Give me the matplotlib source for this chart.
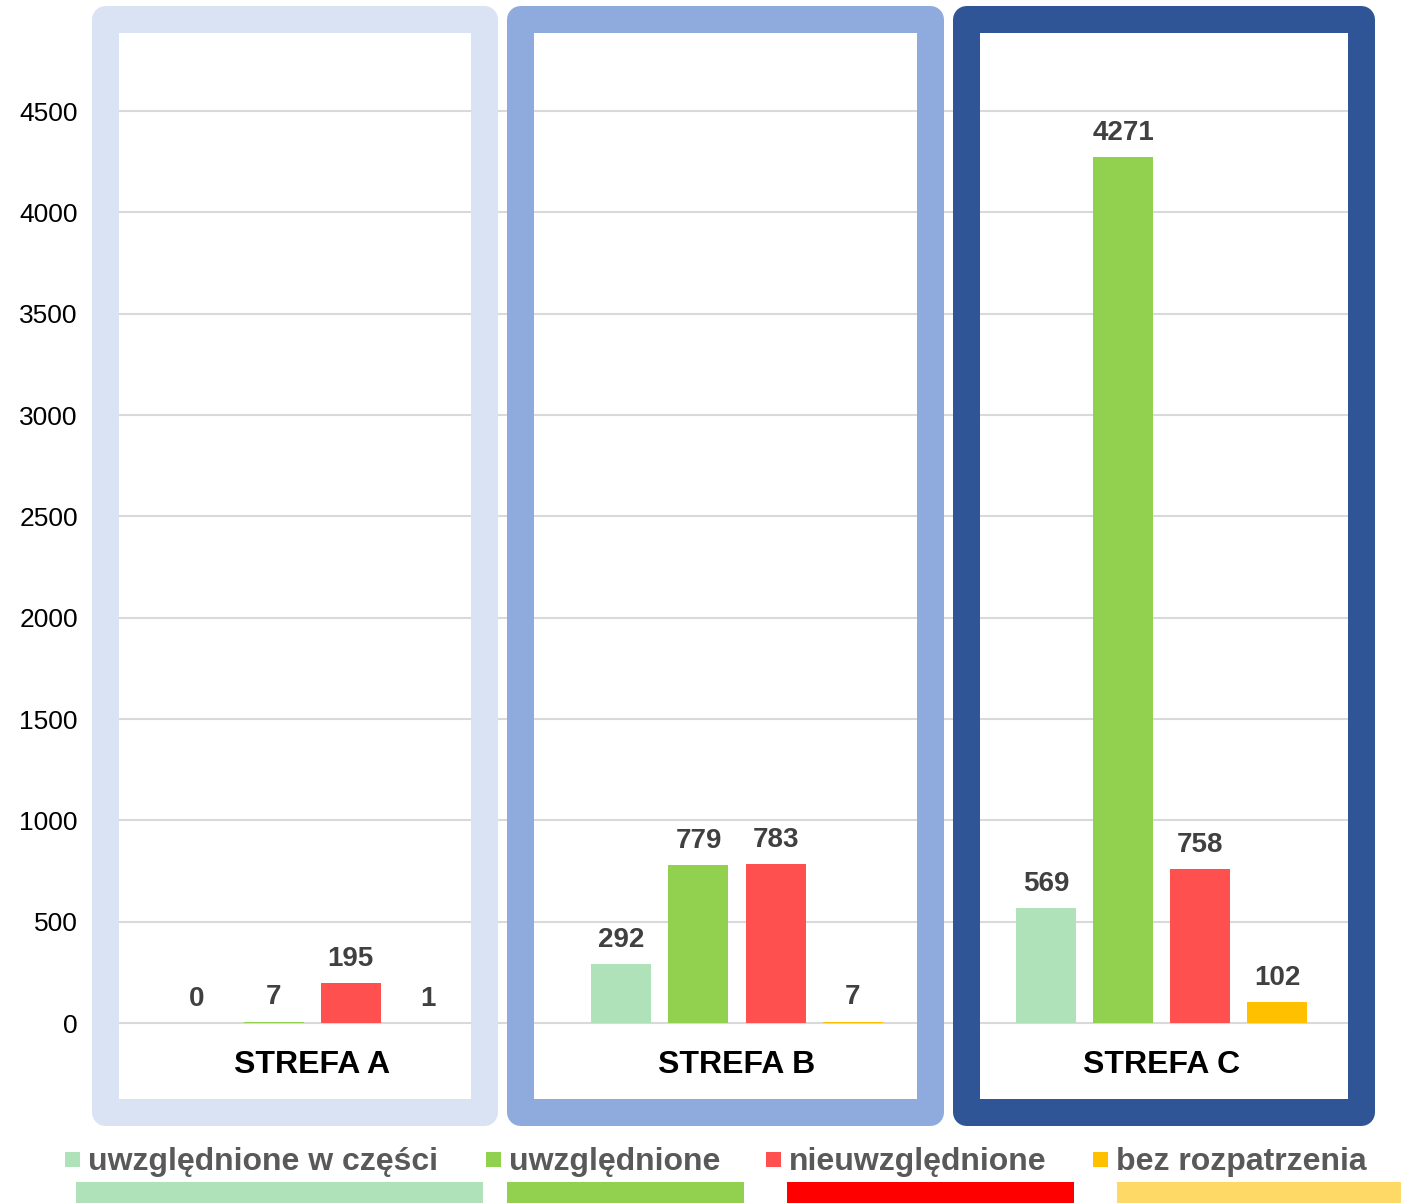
import matplotlib
matplotlib.use("Agg")
import matplotlib.pyplot as plt
from matplotlib.patches import Rectangle
import numpy as np

plt.rcParams["font.family"] = ["Liberation Sans", "DejaVu Sans"]

zones = ["STREFA A", "STREFA B", "STREFA C"]
series = ["uwzględnione w części", "uwzględnione", "nieuwzględnione", "bez rozpatrzenia"]
values = {
    "uwzględnione w części": [0, 292, 569],
    "uwzględnione": [7, 779, 4271],
    "nieuwzględnione": [195, 783, 758],
    "bez rozpatrzenia": [1, 7, 102],
}
yticks = [0, 500, 1000, 1500, 2000, 2500, 3000, 3500, 4000, 4500]

bar_colors = ["#B0E2BA", "#92D050", "#FF5050", "#FFC000"]
strip_colors = ["#B0E2BA", "#92D050", "#FF0000", "#FFD966"]
frame_colors = ["#DAE3F3", "#8FAADC", "#2F5597"]

W, H = 1401, 1203
fig = plt.figure(figsize=(W / 100, H / 100), dpi=100)


def fx(px):
    return px / W


def fy(py):
    return 1 - py / H


# axes spans pixels x 100..1374, y 31..1099
ax = fig.add_axes([fx(100), fy(1099), (1374 - 100) / W, (1099 - 31) / H])
ax.set_xlim(-0.5, 2.5)
ax.set_ylim(-375, 4895)
ax.set_facecolor("none")
for s in ax.spines.values():
    s.set_visible(False)
ax.set_yticks(yticks)
ax.set_yticklabels([str(t) for t in yticks], fontsize=19, color="#000000")
ax.tick_params(axis="y", length=0, pad=16)
ax.set_xticks([])
ax.grid(axis="y", color="#D9D9D9", lw=1.5)
ax.set_axisbelow(True)

x = np.arange(len(zones))
step = 0.1814
width = 0.1413
for i, name in enumerate(series):
    xs = x + (i - 1.5) * step
    ax.bar(xs, values[name], width=width, color=bar_colors[i], zorder=2)
    for xb, v in zip(xs, values[name]):
        ax.annotate(str(v), (xb, v), xytext=(0, 8), textcoords="offset points",
                    ha="center", va="bottom", fontsize=20, fontweight="bold",
                    color="#404040")

for xi, z in zip(x, zones):
    ax.text(xi, -205, z, ha="center", va="center", fontsize=23,
            fontweight="bold", color="#000000")

# panel frames (outer pixel bounds)
frames = [(91, 497), (506, 943), (953, 1374)]
lw_px = 27
for (x0, x1), c in zip(frames, frame_colors):
    x0c, x1c = x0 + lw_px / 2, x1 - lw_px / 2
    y0c, y1c = 5 + lw_px / 2, 1125 - lw_px / 2
    fig.add_artist(Rectangle((fx(x0c), fy(y1c)), (x1c - x0c) / W, (y1c - y0c) / H,
                             transform=fig.transFigure, fill=False, edgecolor=c,
                             lw=lw_px * 0.72, joinstyle="round", zorder=3))

# legend
leg_sq = [65, 486, 766, 1093]
strips = [(76, 483), (507, 744), (787, 1074), (1117, 1401)]
for i, name in enumerate(series):
    fig.add_artist(Rectangle((fx(leg_sq[i]), fy(1167)), 15 / W, 15 / H,
                             transform=fig.transFigure, color=bar_colors[i], lw=0))
    fig.text(fx(leg_sq[i] + 23), fy(1162), name, ha="left", va="center",
             fontsize=23, fontweight="bold", color="#595959")
    s0, s1 = strips[i]
    fig.add_artist(Rectangle((fx(s0), 0), (s1 - s0) / W, 21 / H,
                             transform=fig.transFigure, color=strip_colors[i], lw=0))

fig.savefig("out.png", dpi=100)
